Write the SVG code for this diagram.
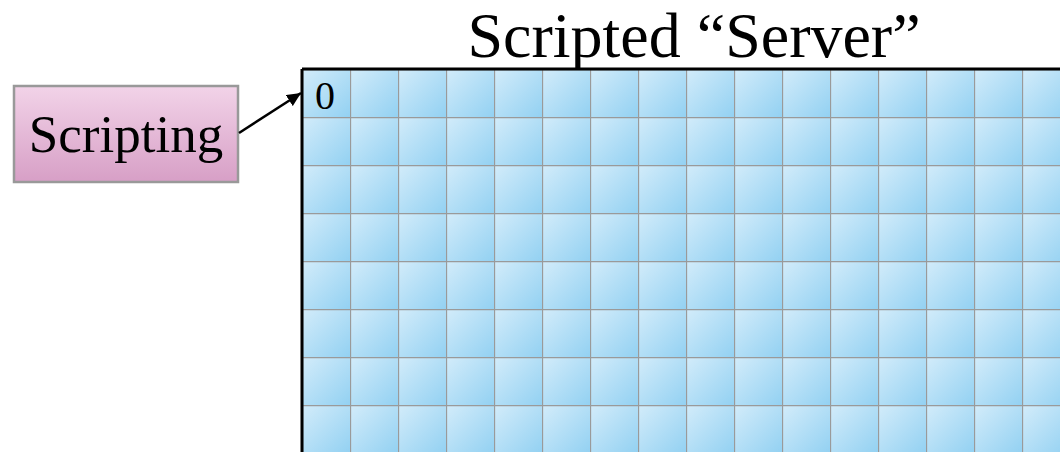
<svg xmlns="http://www.w3.org/2000/svg" width="1060" height="452" viewBox="0 0 1060 452">
<style>
.t{font-family:"Liberation Serif","Times New Roman",serif;fill:#000}
.conn{stroke:#000;stroke-width:2.5;fill:none}
</style>
<defs>
<linearGradient id="cellG" x1="0" y1="0" x2="1" y2="1">
<stop offset="0" stop-color="#d3ecfa"/>
<stop offset="1" stop-color="#93d1f2"/>
</linearGradient>
<linearGradient id="pinkG" x1="0" y1="0" x2="0" y2="1">
<stop offset="0" stop-color="#f2d3e8"/>
<stop offset="1" stop-color="#d79fc6"/>
</linearGradient>
<pattern id="grid" patternUnits="userSpaceOnUse" x="302" y="69" width="48" height="48">
<rect x="0" y="0" width="48" height="48" fill="url(#cellG)"/>
<path d="M0.5 0V48M0 0.5H48" stroke="#9a9a9a" stroke-width="1.3" fill="none"/>
</pattern>
<marker id="arr" markerWidth="14" markerHeight="13" refX="14" refY="6.5" orient="auto" markerUnits="userSpaceOnUse" viewBox="0 0 14 13">
<path d="M0 0L14 6.5L0 13Z" fill="#000"/>
</marker>
</defs>
<rect width="1060" height="452" fill="#fff"/>
<text class="t" x="694" y="57" font-size="64" text-anchor="middle">Scripted “Server”</text>
<g id="server">
<rect x="302" y="69" width="760" height="390" fill="url(#grid)"/>
<path d="M302 69H1060M302 69V452" stroke="#000" stroke-width="3" fill="none"/>
<text class="t" x="315" y="109" font-size="40">0</text>
</g>
<g id="scripting">
<rect x="14" y="86" width="224" height="96" fill="url(#pinkG)" stroke="#999" stroke-width="2.5"/>
<text class="t" x="126" y="152" font-size="53" text-anchor="middle">Scripting</text>
</g>
<g id="connectors">
<line class="conn" x1="239" y1="133" x2="301" y2="93" marker-end="url(#arr)"/>
</g>
</svg>
